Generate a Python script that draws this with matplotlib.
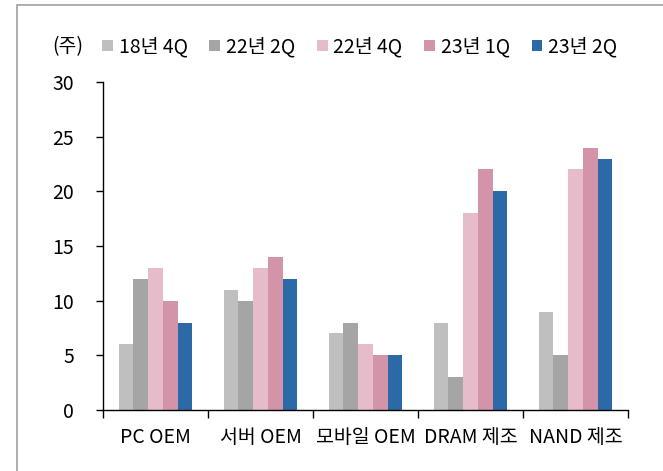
import numpy as np
import matplotlib.pyplot as plt
from matplotlib.patches import Rectangle

plt.rcParams['font.family'] = ['Noto Sans CJK KR', 'DejaVu Sans']

categories = ['PC OEM', '서버 OEM', '모바일 OEM', 'DRAM 제조', 'NAND 제조']
series = ['18년 4Q', '22년 2Q', '22년 4Q', '23년 1Q', '23년 2Q']
values = [
    [6, 11, 7, 8, 9],
    [12, 10, 8, 3, 5],
    [13, 13, 6, 18, 22],
    [10, 14, 5, 22, 24],
    [8, 12, 5, 20, 23],
]
colors = ['#BFBFBF', '#A5A5A5', '#E6BCCB', '#D393A8', '#2C6AA7']

W, H = 663, 471
fs = 14
fig = plt.figure(figsize=(W / 100, H / 100), dpi=100)
ax = fig.add_axes([103 / W, 1 - 410 / H, 525 / W, 328 / H])

x = np.arange(len(categories))
bw = 0.14
for i, (name, vals) in enumerate(zip(series, values)):
    ax.bar(x + (i - 2) * bw, vals, width=bw, color=colors[i], label=name)

ax.set_xlim(-0.5, len(categories) - 0.5)
ax.set_ylim(0, 30)
ax.set_yticks(range(0, 31, 5))
ax.set_xticks(x)
ax.set_xticklabels(categories, fontsize=fs)
ax.set_xticks(np.arange(-0.5, len(categories)), minor=True)
ax.tick_params(axis='x', which='major', length=0, pad=12)
ax.tick_params(axis='x', which='minor', length=6, width=1, direction='out')
ax.tick_params(axis='y', length=5, width=1, direction='out', labelsize=fs, pad=16)
for s in ['top', 'right']:
    ax.spines[s].set_visible(False)
for s in ['left', 'bottom']:
    ax.spines[s].set_color('black')
    ax.spines[s].set_linewidth(1)

fig.text(52 / W, 1 - 47 / H, '(주)', fontsize=fs, va='center', ha='left')
leg = fig.legend(loc='center left', bbox_to_anchor=(102 / W, 1 - 47 / H), ncol=5,
                 frameon=False, fontsize=fs, handlelength=0.55, handleheight=0.55,
                 handletextpad=0.3, columnspacing=1.12, borderaxespad=0, borderpad=0)

# outer frame (left and top edges visible)
fig.patches.append(Rectangle((17 / W, -0.1), 1.2, 1 - 5 / H + 0.1, transform=fig.transFigure,
                             fill=False, edgecolor='#A0A0A0', linewidth=1.2))

fig.savefig('out.png', dpi=100)
